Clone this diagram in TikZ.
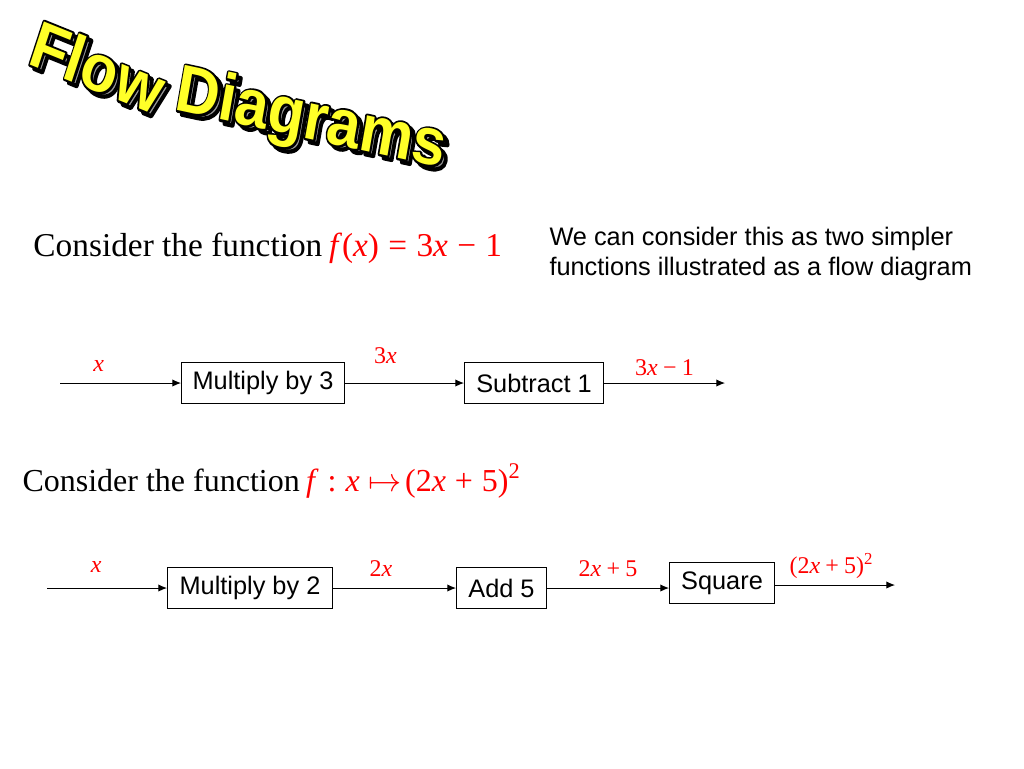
\documentclass[tikz,border=0pt]{standalone}
\usepackage{fontspec}
\setmainfont{Liberation Serif}
\setsansfont{Liberation Sans}
\usetikzlibrary{arrows.meta, positioning}
\newcommand{\vx}{\textit{x}}
\newcommand{\opsp}{\kern0.28em}
\newcommand{\outlined}[1]{\special{pdf:literal direct 2 Tr 3.2 w 1 j 0 0 0 RG}#1\special{pdf:literal direct 0 Tr}}

\begin{document}
\begin{tikzpicture}[x=0.75pt, y=-0.75pt, >={Latex[length=6.5pt, width=5.5pt]}, line width=0.75pt]
    % Estilos
    \tikzstyle{block} = [draw, rectangle, inner sep=0pt, minimum height=30.75pt, font=\sffamily\fontsize{19}{22}\selectfont]
    \tikzstyle{lbl} = [text=red, inner sep=0pt, font=\fontsize{18}{20}\selectfont]
    \tikzstyle{serif} = [inner sep=0pt, anchor=base west, font=\fontsize{24}{28}\selectfont]
    \tikzstyle{wordart} = [inner sep=0pt, xscale=0.9, font=\sffamily\bfseries\fontsize{50}{56}\selectfont]

    \useasboundingbox (0,0) rectangle (1024,768);

    % Titulo (sombra, contorno y relleno)
    \foreach \word/\wx/\wy/\wrot in {Flow/98/67/-20, Diagrams/311/122/-11}{
        \node[wordart, text=black!40, rotate=\wrot] (shadow-\word) at (\wx+4,\wy+4) {\outlined{\word}};
        \node[wordart, text=black, rotate=\wrot] (contour-\word) at (\wx,\wy) {\outlined{\word}};
        \node[wordart, text={rgb,255:red,255;green,255;blue,40}, rotate=\wrot] (title-\word) at (\wx,\wy) {\word};
    }

    % Primera funcion
    \node[serif, font=\fontsize{25}{28}\selectfont] (eq1) at (33,256) {Consider the function\kern0.2em{\color{red}\textit{f}(\vx)\opsp=\opsp3\vx\opsp−\opsp1}};
    \node[anchor=north west, inner sep=0pt, align=left, font=\sffamily\fontsize{19}{22.5}\selectfont] (note) at (549,227)
        {We can consider this as two simpler\\functions illustrated as a flow diagram};

    \node[coordinate] (in1) at (60,383) {}; % entrada x
    \node[block, minimum width=122.25pt, right=90.75pt of in1] (mul3) {Multiply by 3};
    \node[block, minimum width=104.25pt, right=89.25pt of mul3] (sub1) {Subtract 1};
    \node[coordinate, right=90.75pt of sub1] (out1) {}; % salida 3x-1

    \draw[->] (in1) -- node[lbl, pos=0.32, yshift=12.75pt] (lx1) {\vx} (mul3);
    \draw[->] (mul3) -- node[lbl, pos=0.34, yshift=20.25pt] (l3x) {3\vx} (sub1);
    \draw[->] (sub1) -- node[lbl, pos=0.5, yshift=11.25pt] (l3x1) {3\vx\kern0.22em−\kern0.22em1} (out1);

    % Segunda funcion
    \node[serif] (eq2) at (22,491) {Consider the function\kern0.2em{\color{red}\textit{f}\opsp:\opsp\vx\opsp$\mapsto$\kern0.1em(2\vx\opsp+\opsp5)\textsuperscript{2}}};

    \node[coordinate] (in2) at (47,588) {}; % entrada x
    \node[block, minimum width=123.75pt, right=90pt of in2] (mul2) {Multiply by 2};
    \node[block, minimum width=67.5pt, right=92.25pt of mul2] (add5) {Add 5};
    \node[block, minimum width=78.75pt, right=91.5pt of add5, yshift=3.75pt] (sqr) {Square};
    \node[coordinate, right=90pt of sqr, yshift=-1.5pt] (out2) {}; % salida (2x+5)^2

    \draw[->] (in2) -- node[lbl, pos=0.41, yshift=15.75pt] (lx2) {\vx} (mul2);
    \draw[->] (mul2) -- node[lbl, pos=0.39, yshift=14.25pt] (l2x) {2\vx} (add5);
    \draw[->] (add5) -- node[lbl, pos=0.5, yshift=14.25pt] (l2x5) {2\vx\kern0.22em+\kern0.22em5} (add5 -| sqr.west);
    \draw[->] (sqr.east |- out2) -- node[lbl, pos=0.47, yshift=14.25pt] (lsq) {(2\vx\kern0.22em+\kern0.22em5)\textsuperscript{2}} (out2);

\end{tikzpicture}
\end{document}
